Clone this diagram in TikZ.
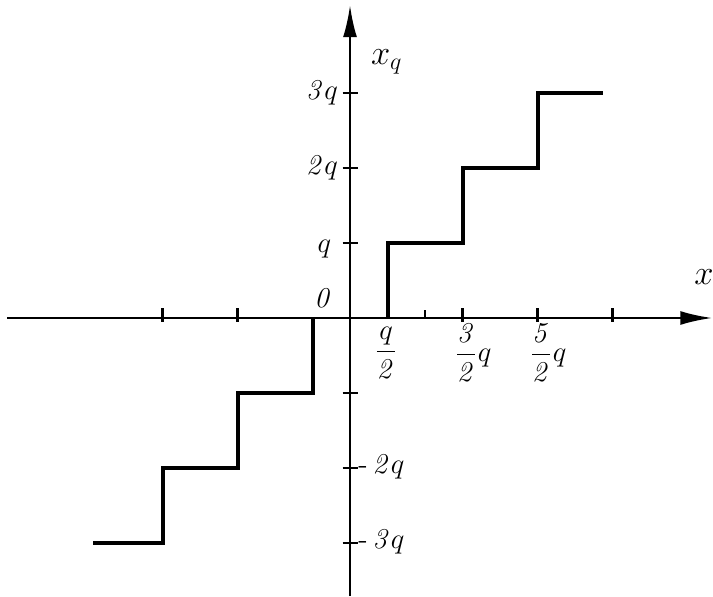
\documentclass[tikz,border=0pt]{standalone}
\usepackage{amsmath,amssymb}
\usepackage{tikz}
\usetikzlibrary{arrows.meta,positioning,calc}

\begin{document}
\begin{tikzpicture}[x=1.32cm, y=1.32cm, font=\Large,
  axis/.style={line width=1.2pt, -{Latex[length=16pt,width=7pt]}},
  tick/.style={line width=1.1pt},
  stair/.style={line width=2pt, line join=miter},
  lab/.style={inner sep=1pt}]
% page frame in units of q (origin at the crossing of the axes)
\useasboundingbox (-4.667,-3.707) rectangle (4.84,4.24);
% ---------------- axes ----------------
\draw[axis] (-4.57,0) -- (4.83,0);
\draw[axis] (0,-3.71) -- (0,4.17);
% ticks on the x axis (every half step) and the y axis
\foreach \t in {-2.5,-1.5,1.5,2.5,3.5}
  \draw[tick] (\t,-0.05) -- (\t,0.13);
\draw[tick] (1,0) -- (1,0.11);
\foreach \t in {3,2,1,-1,-2,-3}
  \draw[tick] (-0.1,\t) -- (0.1,\t);
% ---------------- quantiser staircase ----------------
\draw[stair] (0.5,0) -- (0.5,1) -- (1.5,1) -- (1.5,2) -- (2.5,2) -- (2.5,3) -- (3.37,3);
\draw[stair] (-0.5,0) -- (-0.5,-1) -- (-1.5,-1) -- (-1.5,-2) -- (-2.5,-2) -- (-2.5,-3) -- (-3.43,-3);
% ---------------- labels ----------------
\node[lab, font=\LARGE] (xq) at (0.49,3.42) {$x_q$};
\node[lab, font=\LARGE] (xlab) at (4.72,0.55) {$x$};
\node[lab] (yzero) at (-0.37,0.26) {\textit{0}};
\node[lab, anchor=east] (y3) at (-0.13,3) {$\mathit{3}q$};
\node[lab, anchor=east] (y2) at (-0.13,2) {$\mathit{2}q$};
\node[lab, anchor=east] (y1) at (-0.22,0.92) {$q$};
\node[lab, anchor=west] (ym2) at (0.08,-1.98) {$\text{-}\,\mathit{2}q$};
\node[lab, anchor=west] (ym3) at (0.08,-2.98) {$\text{-}\,\mathit{3}q$};
\node[lab] (x1) at (0.48,-0.46) {$\dfrac{q}{\mathit{2}}$};
\node[lab] (x3) at (1.64,-0.46) {$\dfrac{\mathit{3}}{\mathit{2}}q$};
\node[lab] (x5) at (2.64,-0.46) {$\dfrac{\mathit{5}}{\mathit{2}}q$};
\end{tikzpicture}
\end{document}
